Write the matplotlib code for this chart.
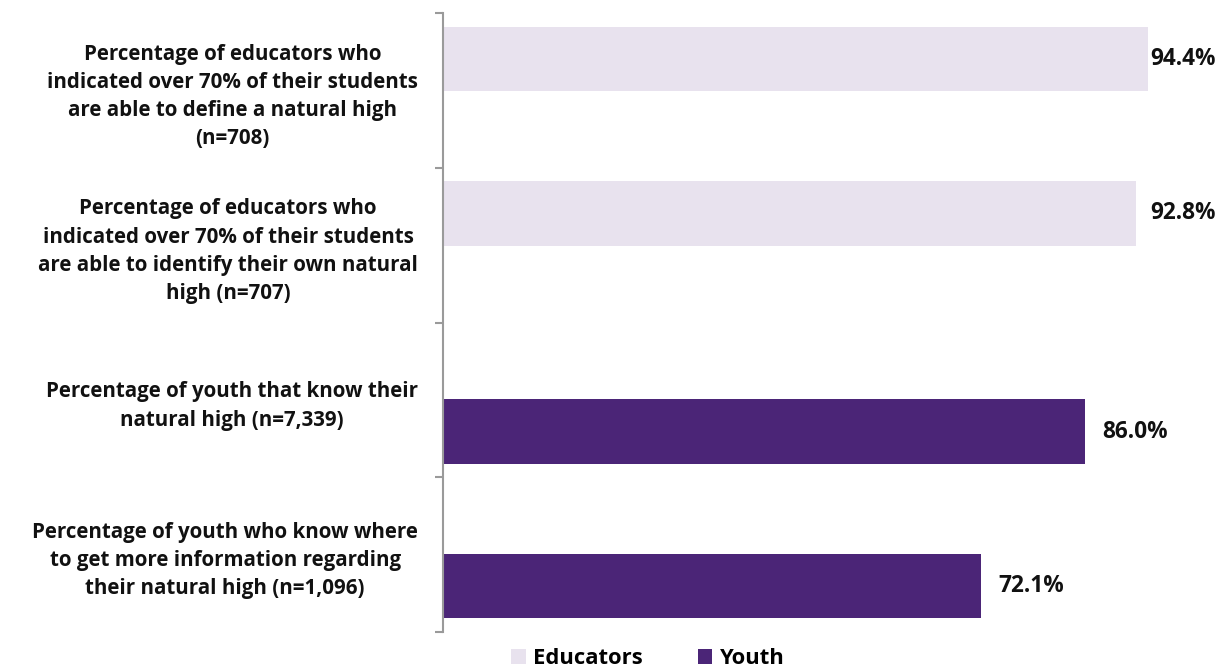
import numpy as np
import matplotlib

matplotlib.rcParams["font.family"] = ["Open Sans", "DejaVu Sans"]
matplotlib.rcParams["font.weight"] = "bold"

import matplotlib.pyplot as plt

EDU_COLOR = "#E8E2EE"
YOUTH_COLOR = "#4B2577"
AXIS_COLOR = "#9A9A9A"
TEXT_COLOR = "#111111"

categories = [
    "Percentage of educators who\nindicated over 70% of their students\nare able to define a natural high\n(n=708)",
    "Percentage of educators who\nindicated over 70% of their students\nare able to identify their own natural\nhigh (n=707)",
    "Percentage of youth that know their\nnatural high (n=7,339)",
    "Percentage of youth who know where\nto get more information regarding\ntheir natural high (n=1,096)",
]
educators = [94.4, 92.8, np.nan, np.nan]
youth = [np.nan, np.nan, 86.0, 72.1]
series_names = ["Educators", "Youth"]

X_MAX = 103.5
BAR_H = 0.415
OFFSET = 0.205
VALUE_FS = 16.3

fig = plt.figure(figsize=(12.25, 6.69), dpi=100)
ax = fig.add_axes([443 / 1225, 1 - 632 / 669, (1216 - 443) / 1225, (632 - 13) / 669])

pos = np.arange(len(categories))
handles = []
for vals, shift, color, name in [(educators, -OFFSET, EDU_COLOR, series_names[0]),
                                 (youth, OFFSET, YOUTH_COLOR, series_names[1])]:
    vals = np.asarray(vals, dtype=float)
    mask = ~np.isnan(vals)
    bars = ax.barh(pos[mask] + shift, vals[mask], height=BAR_H, color=color, label=name)
    handles.append(bars)
    for y, v in zip(pos[mask] + shift, vals[mask]):
        label = f"{v:.1f}%"
        # Excel pushes the label inside the plot area when it would overflow
        if v + 2.3 + 8.8 > X_MAX:
            ax.text(X_MAX, y, label, ha="right", va="center", fontsize=VALUE_FS,
                    color=TEXT_COLOR, fontweight="bold", clip_on=False)
        else:
            ax.text(v + 2.3, y, label, ha="left", va="center", fontsize=VALUE_FS,
                    color=TEXT_COLOR, fontweight="bold", clip_on=False)

ax.set_xlim(0, X_MAX)
ax.set_ylim(len(categories) - 0.5, -0.5)

# category boundaries carry the tick marks, labels sit at the centres
ax.set_yticks(np.arange(len(categories) + 1) - 0.5)
ax.set_yticklabels([])
ax.set_yticks(pos, minor=True)
ax.set_yticklabels(categories, minor=True, fontsize=14.8, fontweight="bold",
                   color=TEXT_COLOR, multialignment="center", linespacing=1.45)
ax.tick_params(axis="y", which="major", length=6, width=1.5, color=AXIS_COLOR, direction="out")
ax.tick_params(axis="y", which="minor", length=0, pad=18)
ax.set_xticks([])

for side in ["top", "right", "bottom"]:
    ax.spines[side].set_visible(False)
ax.spines["left"].set_color(AXIS_COLOR)
ax.spines["left"].set_linewidth(1.5)
ax.grid(False)

fig.legend(handles=handles, labels=series_names, loc="lower center",
           bbox_to_anchor=(0.529, -0.03), ncol=2, frameon=False,
           prop={"size": 15.8, "weight": "bold"}, handlelength=0.65, handleheight=0.65,
           handletextpad=0.35, columnspacing=2.5)

fig.savefig("out.png", dpi=100)
